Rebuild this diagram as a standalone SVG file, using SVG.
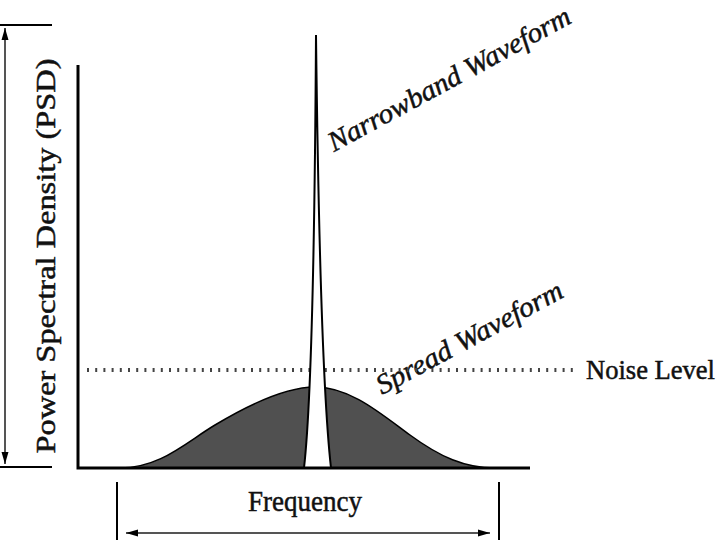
<svg xmlns="http://www.w3.org/2000/svg" width="720" height="540" viewBox="0 0 720 540">
  <style>
    .lbl { font-family: "Liberation Serif", "Times New Roman", serif; font-size: 28px; fill: #111; stroke: #111; stroke-width: 0.5; }
    .it { font-style: italic; }
    .axis { stroke: #000; stroke-width: 3; fill: none; }
    .tick { stroke: #000; stroke-width: 2; fill: none; }
    .dim { stroke: #555; stroke-width: 2; fill: none; }
  </style>
  <defs>
    <marker id="arr" viewBox="0 0 12 8" refX="12" refY="4" markerWidth="12" markerHeight="8" markerUnits="userSpaceOnUse" orient="auto-start-reverse">
      <path d="M0,0.5 L12,4 L0,7.5 Z" fill="#000"/>
    </marker>
  </defs>
  <rect width="720" height="540" fill="#fff"/>

  <g id="spread-waveform">
    <path d="M120,468 C160,468 185,443 215,425 C245,407 285,387 315,387 C350,387 380,413 410,435 C440,457 465,468 495,468 Z" fill="#505050" stroke="#000" stroke-width="1.5"/>
    <text class="lbl it" transform="translate(382,395) rotate(-28.3)" textLength="208" lengthAdjust="spacingAndGlyphs">Spread Waveform</text>
  </g>

  <g id="noise-level">
    <line x1="87" y1="370" x2="575" y2="370" stroke="#444" stroke-width="4" stroke-dasharray="2 6.2"/>
    <text class="lbl" x="586" y="379" style="font-size:27px" textLength="129" lengthAdjust="spacingAndGlyphs">Noise Level</text>
  </g>

  <g id="narrowband-waveform">
    <path d="M304,468 Q314,380 316,35 Q320,370 331,468 Z" fill="#fff" stroke="#000" stroke-width="2" stroke-linejoin="miter"/>
    <text class="lbl it" transform="translate(334,152) rotate(-28.5)" textLength="272" lengthAdjust="spacingAndGlyphs">Narrowband Waveform</text>
  </g>

  <g id="axes">
    <polyline class="axis" points="78,65 78,468 530,468"/>
  </g>

  <g id="psd-label">
    <text class="lbl" transform="translate(55,256) rotate(-90)" text-anchor="middle" textLength="395" lengthAdjust="spacingAndGlyphs">Power Spectral Density (PSD)</text>
  </g>

  <g id="frequency-label">
    <text class="lbl" x="305" y="511" style="font-size:29px" text-anchor="middle" textLength="114" lengthAdjust="spacingAndGlyphs">Frequency</text>
  </g>

  <g id="connectors">
    <line class="tick" x1="0" y1="25" x2="52" y2="25"/>
    <line class="tick" x1="0" y1="467" x2="52" y2="467"/>
    <line class="dim" x1="5" y1="28" x2="5" y2="464" marker-start="url(#arr)" marker-end="url(#arr)"/>
    <line class="tick" x1="117" y1="482" x2="117" y2="540"/>
    <line class="tick" x1="499" y1="482" x2="499" y2="540"/>
    <line class="dim" x1="126" y1="533" x2="490" y2="533" marker-start="url(#arr)" marker-end="url(#arr)"/>
  </g>
</svg>
